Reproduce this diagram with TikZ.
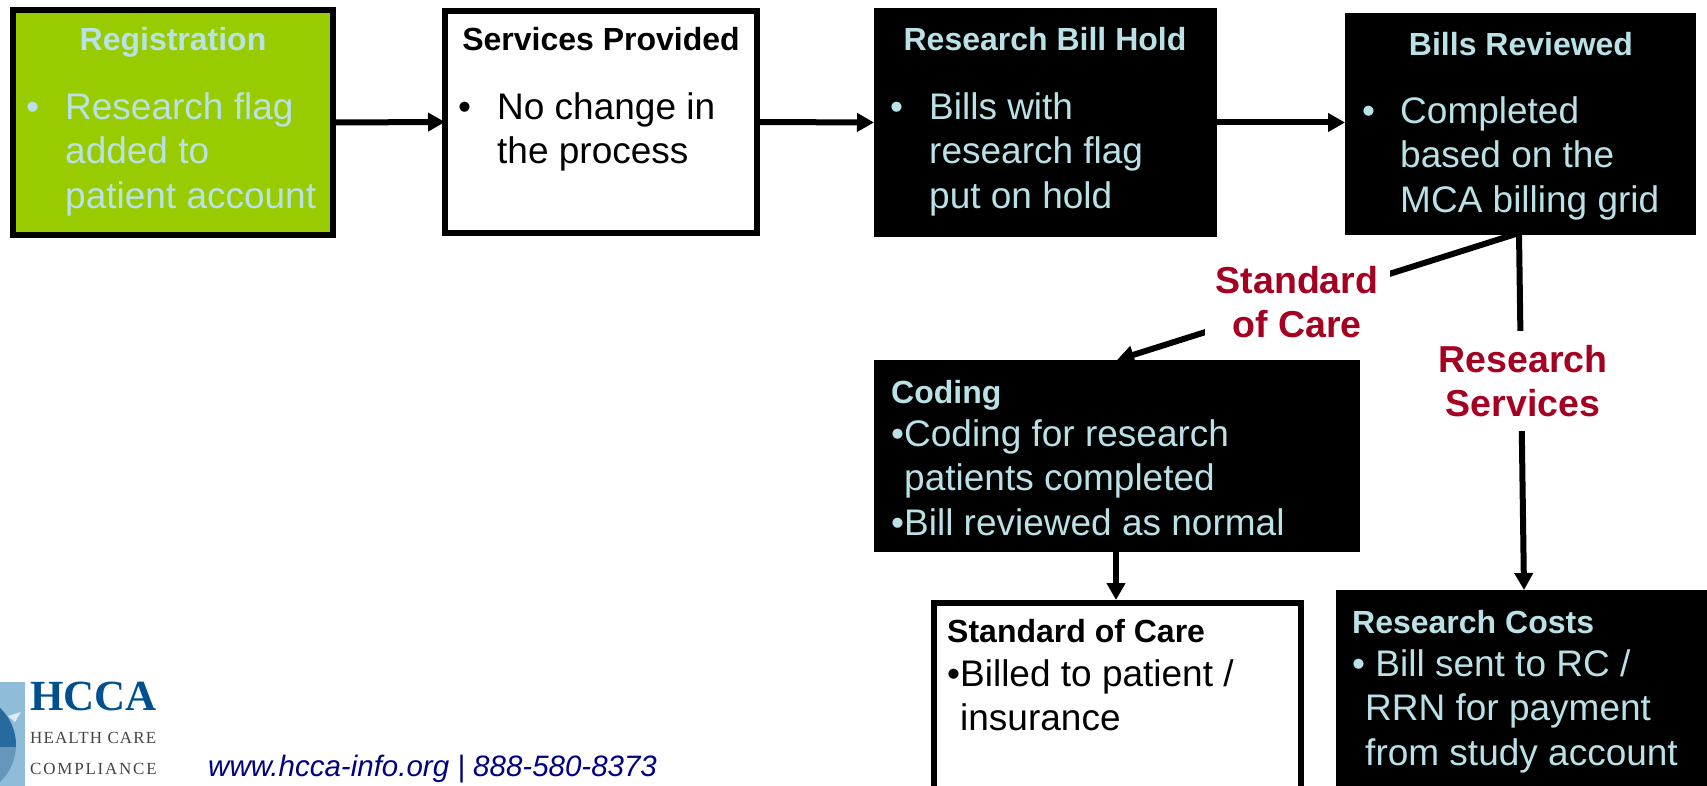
\documentclass[tikz,border=0pt]{standalone}
\usepackage{fontspec}
\setmainfont{Liberation Sans}
\newfontfamily\serifface{Liberation Serif}
\usetikzlibrary{arrows.meta}
\definecolor{paleblue}{HTML}{B9E1E6}
\definecolor{limegreen}{HTML}{99CC00}
\definecolor{crimson}{HTML}{A50021}
\definecolor{linkblue}{HTML}{000080}
\definecolor{logoblue}{HTML}{00508F}
\definecolor{logosky}{HTML}{8FBCD8}
\definecolor{logogrey}{HTML}{444444}
\tikzset{
  x=1pt,y=-1pt,
  boxnode/.style={draw=black,line width=6pt,inner sep=0pt,outer sep=0pt,anchor=north west},
  blacknode/.style={fill=black,inner sep=0pt,outer sep=0pt,anchor=north west},
  head/.style={anchor=base,font=\bfseries\fontsize{32}{36}\selectfont,inner sep=0pt},
  body/.style={anchor=base west,font=\fontsize{37}{44.6}\selectfont,align=left,inner sep=0pt},
  conn/.style={line width=6pt,-{Triangle[length=17pt,width=18pt]}},
  label/.style={fill=white,font=\bfseries\fontsize{37.5}{44.6}\selectfont,text=crimson,align=center,inner sep=0pt,outer sep=0pt},
}
\begin{document}
\begin{tikzpicture}
\useasboundingbox (0,0) rectangle (1707,786);
% boxes
\node[boxnode,fill=limegreen,minimum width=320pt,minimum height=225pt] (reg) at (13,10) {};
\node[boxnode,fill=white,minimum width=312pt,minimum height=222pt] (serv) at (445,11) {};
\node[blacknode,minimum width=343pt,minimum height=229pt] (hold) at (874,8) {};
\node[blacknode,minimum width=351pt,minimum height=222pt] (rev) at (1345,13) {};
\node[blacknode,minimum width=486pt,minimum height=192pt] (cod) at (874,360) {};
\node[boxnode,fill=white,minimum width=367pt,minimum height=190pt] (soc) at (934,603) {};
\node[blacknode,minimum width=371pt,minimum height=196pt] (rc) at (1336,590) {};
% connectors
\draw[conn] (reg.east) -- (serv.west);
\draw[conn] (serv.east) -- (hold.west);
\draw[conn] (hold.east |- reg.east) -- (rev.west |- reg.east);
\coordinate (revout) at (1519,233);
\coordinate (codin) at (1117,360);
\coordinate (rcin) at (1524,590);
\coordinate (codout) at (1116,551);
\coordinate (socin) at (1116,600);
\draw[conn] (revout) -- (codin);
\draw[conn] (revout) -- (rcin);
\draw[conn] (codout) -- (socin);
% labels on connectors
\node[label,minimum width=185pt,minimum height=96pt] (lsoc) at (1297,302) {Standard\\[-0.5pt]of Care};
\node[label,minimum width=175pt,minimum height=100pt] (lres) at (1523,381) {Research\\[-0.5pt]Services};
% texts
\node[head,text=paleblue] (t1) at (173,51) {Registration};
\node[body,text=paleblue] (b1) at (26,120) {•};
\node[body,text=paleblue,anchor=north west] (b1t) at (65,92) {Research flag\\added to\\patient account};
\node[head,text=black] (t2) at (601,51) {Services Provided};
\node[body,text=black] (b2) at (458,120) {•};
\node[body,text=black,anchor=north west] (b2t) at (497,92) {No change in\\the process};
\node[head,text=paleblue] (t3) at (1045,51) {Research Bill Hold};
\node[body,text=paleblue] (b3) at (890,120) {•};
\node[body,text=paleblue,anchor=north west] (b3t) at (929,92) {Bills with\\research flag\\put on hold};
\node[head,text=paleblue] (t4) at (1521,56) {Bills Reviewed};
\node[body,text=paleblue] (b4) at (1362,124) {•};
\node[body,text=paleblue,anchor=north west] (b4t) at (1400,96) {Completed\\based on the\\MCA billing grid};
\node[head,text=paleblue,anchor=base west] (t5) at (891,403) {Coding};
\node[body,text=paleblue,anchor=north west] (b5t) at (891,419) {•Coding for research\\\hspace*{13pt}patients completed\\•Bill reviewed as normal};
\node[head,text=black,anchor=base west] (t6) at (947,642) {Standard of Care};
\node[body,text=black,anchor=north west] (b6t) at (947,659) {•Billed to patient /\\\hspace*{13pt}insurance};
\node[head,text=paleblue,anchor=base west] (t7) at (1352,633) {Research Costs};
\node[body,text=paleblue,anchor=north west] (b7t) at (1352,649) {• Bill sent to RC /\\\hspace*{13pt}RRN for payment\\\hspace*{13pt}from study account};
% footer
\node[anchor=base west,inner sep=0pt,text=linkblue,font=\itshape\fontsize{29.5}{34}\selectfont] (web) at (208,776) {www.hcca-info.org | 888-580-8373};
% logo
\fill[logosky] (0,682) rectangle (25,786);
\begin{scope}
\clip (0,682) rectangle (25,786);
\begin{scope}
\clip (-35,745) circle (51);
\fill[logoblue!85] (-90,680) rectangle (30,747);
\fill[logoblue!60] (-90,747) rectangle (30,800);
\end{scope}
\fill[white!70!logosky] (8,716) -- (21,712) -- (15,722) -- cycle;
\end{scope}
\node[anchor=base west,inner sep=0pt,text=logoblue,font=\serifface\bfseries\fontsize{43}{46}\selectfont] (hcca) at (30,710) {HCCA};
\node[anchor=base west,inner sep=0pt,text=logogrey,font=\serifface\fontsize{17}{20}\selectfont\addfontfeature{LetterSpace=6.5}] (hc) at (30,743) {HEALTH CARE};
\node[anchor=base west,inner sep=0pt,text=logogrey,font=\serifface\fontsize{17}{20}\selectfont\addfontfeature{LetterSpace=10.5}] (comp) at (30,774) {COMPLIANCE};
\end{tikzpicture}
\end{document}
